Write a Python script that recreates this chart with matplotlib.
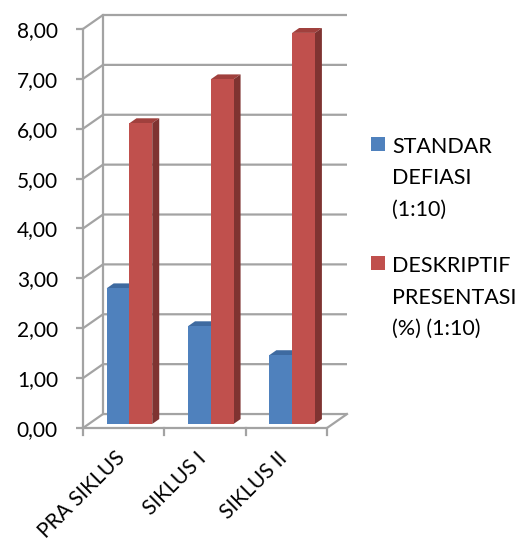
import matplotlib
matplotlib.use("Agg")
import matplotlib.pyplot as plt
from matplotlib.patches import Polygon, Rectangle

# --- data ---
categories = ["PRA SIKLUS", "SIKLUS I", "SIKLUS II"]
standar_defiasi = [2.72, 1.96, 1.38]
deskriptif_presentasi = [6.03, 6.91, 7.84]
series_labels = ["STANDAR\nDEFIASI\n(1:10)", "DESKRIPTIF\nPRESENTASI\n(%) (1:10)"]
y_ticks = [0, 1, 2, 3, 4, 5, 6, 7, 8]
y_ticklabels = ["0,00", "1,00", "2,00", "3,00", "4,00", "5,00", "6,00", "7,00", "8,00"]

# --- style ---
FONT = "Lato"
FS_TICK = 15
FS_CAT = 15
FS_LEG = 15.5
GRID = "#a3a3a3"
front_colors = ["#4f81bd", "#c0504d"]
top_colors = ["#3e6aa0", "#a0403d"]
side_colors = ["#385d8a", "#7f3331"]

# 3-D frame depth in data units
DX, DY = 0.246, 0.28
# bar depth span (fraction of frame depth)
F0, F1 = 0.29, 0.64
BAR_W = 0.28

W, H = 524, 549
fig = plt.figure(figsize=(W / 100, H / 100), dpi=100)
ax = fig.add_axes([83 / W, 121 / H, 264 / W, 413 / H])
ax.set_xlim(-0.5, 2.5 + DX)
ax.set_ylim(0, 8 + DY)

# walls: gridlines running along the side wall and back wall
for v in y_ticks:
    ax.plot([-0.5, -0.5 + DX, 2.5 + DX], [v, v + DY, v + DY],
            color=GRID, lw=1.6, solid_capstyle="butt", zorder=1, clip_on=False)
ax.plot([-0.5 + DX, -0.5 + DX], [DY, 8 + DY], color=GRID, lw=1.6, zorder=1, clip_on=False)
# floor front edge and right edge
ax.plot([-0.5, 2.5, 2.5 + DX], [0, 0, DY], color=GRID, lw=1.6, zorder=1, clip_on=False)
# category boundary ticks
for xb in [-0.5, 0.5, 1.5, 2.5]:
    ax.plot([xb, xb], [0, -0.14], color=GRID, lw=1.6, zorder=1, clip_on=False)

# bars with front, top and side faces
ox0, oy0 = F0 * DX, F0 * DY
bdx, bdy = (F1 - F0) * DX, (F1 - F0) * DY
for s, vals in enumerate([standar_defiasi, deskriptif_presentasi]):
    for i, v in enumerate(vals):
        x0 = i + (s - 1) * BAR_W + ox0
        x1 = x0 + BAR_W
        b = oy0
        t = oy0 + v
        z = 3 + s
        ax.bar(x0, v, width=BAR_W, bottom=b, align="edge",
               color=front_colors[s], linewidth=0, zorder=z + 0.2)
        ax.add_patch(Polygon([(x0, t), (x1, t), (x1 + bdx, t + bdy), (x0 + bdx, t + bdy)],
                             closed=True, facecolor=top_colors[s], edgecolor="none", zorder=z))
        ax.add_patch(Polygon([(x1, b), (x1 + bdx, b + bdy), (x1 + bdx, t + bdy), (x1, t)],
                             closed=True, facecolor=side_colors[s], edgecolor="none", zorder=z))

# axes: only the left (front) value axis
for name in ["top", "right", "bottom"]:
    ax.spines[name].set_visible(False)
ax.spines["left"].set_color(GRID)
ax.spines["left"].set_linewidth(1.6)
ax.spines["left"].set_bounds(0, 8)
ax.set_yticks(y_ticks)
ax.set_yticklabels(y_ticklabels, fontfamily=FONT, fontsize=FS_TICK)
ax.tick_params(axis="y", length=5, width=1.6, color=GRID, pad=13)
ax.set_xticks([])
ax.patch.set_visible(False)

# category labels, rotated
for i, c in enumerate(categories):
    ax.annotate(c, xy=(i, 0), xytext=(-9, -20), textcoords="offset pixels",
                rotation=45, ha="right", va="top", rotation_mode="anchor",
                fontfamily=FONT, fontsize=FS_CAT, annotation_clip=False)

# legend: one colour square per series, label lines set on baselines
legend_baselines = [153, 272]
LINE_STEP = 31.5
for s, base in enumerate(legend_baselines):
    fig.patches.append(Rectangle((371 / W, 1 - (base - 2) / H), 14 / W, 14 / H,
                                 transform=fig.transFigure, facecolor=front_colors[s],
                                 edgecolor="none"))
    for k, line in enumerate(series_labels[s].split("\n")):
        fig.text(392 / W, 1 - (base + k * LINE_STEP) / H, line, ha="left", va="baseline",
                 fontfamily=FONT, fontsize=FS_LEG)

fig.savefig("out.png", dpi=100)
